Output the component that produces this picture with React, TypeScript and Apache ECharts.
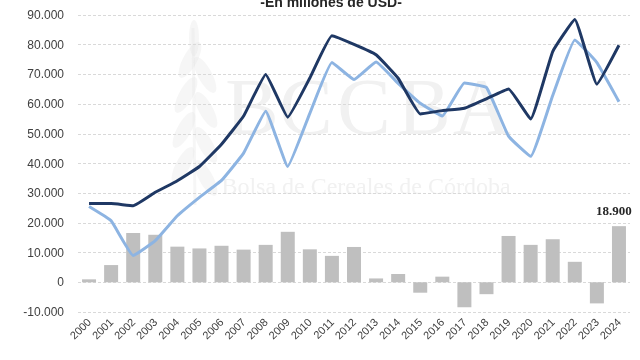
import React, { useEffect, useRef } from "react";
import * as echarts from "echarts";

const years = [
  "2000", "2001", "2002", "2003", "2004", "2005", "2006", "2007", "2008", "2009",
  "2010", "2011", "2012", "2013", "2014", "2015", "2016", "2017", "2018", "2019",
  "2020", "2021", "2022", "2023", "2024",
];
const exportsData = [
  26500, 26500, 25800, 30300, 34200, 39000, 46500, 56000, 70000, 55600,
  68800, 83000, 80100, 76600, 68700, 56700, 57800, 58600, 61800, 65100,
  55000, 77700, 88500, 66700, 79800,
];
const importsData = [
  25500, 20700, 9000, 14000, 22400, 28600, 34300, 43500, 57600, 39000,
  56900, 74000, 68300, 74200, 67000, 60300, 56000, 67100, 65600, 49200,
  42400, 62900, 81600, 74000, 60800,
];
const balanceData = [
  1000, 5800, 16600, 16000, 12000, 11400, 12300, 11000, 12600, 17000,
  11100, 8900, 11900, 1300, 2800, -3500, 1900, -8400, -4000, 15600,
  12600, 14500, 6900, -7100, 18900,
];
const yMin = -10000;
const yMax = 90000;
const yStep = 10000;
const titleText = "-En millones de USD-";
const labelledIndex = 24;

function fmt(v: number): string {
  const s = Math.abs(Math.round(v)).toString().replace(/\B(?=(\d{3})+(?!\d))/g, ".");
  return (v < 0 ? "-" : "") + s;
}

export default function App() {
  const ref = useRef<HTMLDivElement>(null);
  useEffect(() => {
    if (!ref.current) return;
    const chart = echarts.init(ref.current, undefined, { renderer: "svg" });
    const wm = "#f1f1f1";
    const leaf = "rgba(225,225,225,0.3)";
    const leaves: any[] = [];
    const leafPos = [
      [190, 60, -0.5], [205, 75, 0.5], [186, 95, -0.5], [206, 110, 0.5],
      [184, 130, -0.5], [206, 145, 0.5], [183, 165, -0.5], [206, 178, 0.5],
    ];
    leafPos.forEach(([x, y, r]) => {
      leaves.push({
        type: "ellipse",
        z: -10,
        silent: true,
        x, y, rotation: r,
        shape: { cx: 0, cy: 0, rx: 7, ry: 20 },
        style: { fill: leaf },
      });
    });
    const letters = [
      ["B", 252], ["C", 306], ["C", 364], ["B", 424], ["A", 482],
    ];
    chart.setOption({
      animation: false,
      grid: { left: 78, right: 10, top: 15, bottom: 48, containLabel: false },
      graphic: [
        {
          type: "line",
          z: -10,
          silent: true,
          shape: { x1: 195, y1: 205, x2: 193, y2: 28 },
          style: { stroke: leaf, lineWidth: 3 },
        },
        {
          type: "ellipse",
          z: -10,
          silent: true,
          shape: { cx: 194, cy: 38, rx: 5, ry: 18 },
          style: { fill: leaf },
        },
        ...leaves,
        ...letters.map(([ch, x]) => ({
          type: "text",
          z: -10,
          silent: true,
          x: x as number,
          y: 107,
          style: {
            text: ch as string,
            fill: wm,
            font: "80px 'Liberation Serif', serif",
            textAlign: "center",
            textVerticalAlign: "middle",
          },
        })),
        {
          type: "text",
          z: -10,
          silent: true,
          x: 366,
          y: 186,
          style: {
            text: "Bolsa de Cereales de Córdoba",
            fill: wm,
            font: "24px 'Liberation Serif', serif",
            textAlign: "center",
            textVerticalAlign: "middle",
          },
        },
        {
          type: "text",
          x: 331,
          y: -5,
          style: {
            text: titleText,
            fill: "#262626",
            font: "bold 14px 'Liberation Sans', Arial, sans-serif",
            textAlign: "center",
            textVerticalAlign: "top",
          },
        },
      ],
      xAxis: {
        type: "category",
        data: years,
        axisLine: { show: false, onZero: false },
        axisTick: { show: false },
        axisLabel: {
          rotate: 45,
          interval: 0,
          margin: 8,
          color: "#404040",
          fontSize: 11,
          fontFamily: "'Liberation Sans', Arial, sans-serif",
        },
      },
      yAxis: {
        type: "value",
        min: yMin,
        max: yMax,
        interval: yStep,
        axisLine: { show: false },
        axisTick: { show: false },
        axisLabel: {
          margin: 14,
          color: "#404040",
          fontSize: 12,
          fontFamily: "'Liberation Sans', Arial, sans-serif",
          formatter: (v: number) => fmt(v),
        },
        splitLine: { lineStyle: { color: "#d9d9d9", type: [3, 2], width: 1 } },
      },
      series: [
        {
          type: "bar",
          barWidth: 14,
          z: 1,
          itemStyle: { color: "#bfbfbf" },
          data: balanceData.map((v, i) =>
            i === labelledIndex
              ? {
                  value: v,
                  label: {
                    show: true,
                    position: "top",
                    distance: 9,
                    offset: [-5, 0],
                    formatter: () => fmt(v),
                    color: "#262626",
                    fontWeight: "bold",
                    fontSize: 13,
                    fontFamily: "'Liberation Serif', serif",
                  },
                }
              : v
          ),
        },
        {
          type: "line",
          z: 3,
          smooth: 0.1,
          symbol: "none",
          lineStyle: { color: "#8db4e2", width: 3 },
          data: importsData,
        },
        {
          type: "line",
          z: 4,
          smooth: 0.1,
          symbol: "none",
          lineStyle: { color: "#1f3864", width: 3 },
          data: exportsData,
        },
      ],
    });
    return () => chart.dispose();
  }, []);
  return <div ref={ref} style={{ width: 640, height: 360, position: "fixed", left: 0, top: 0 }} />;
}
